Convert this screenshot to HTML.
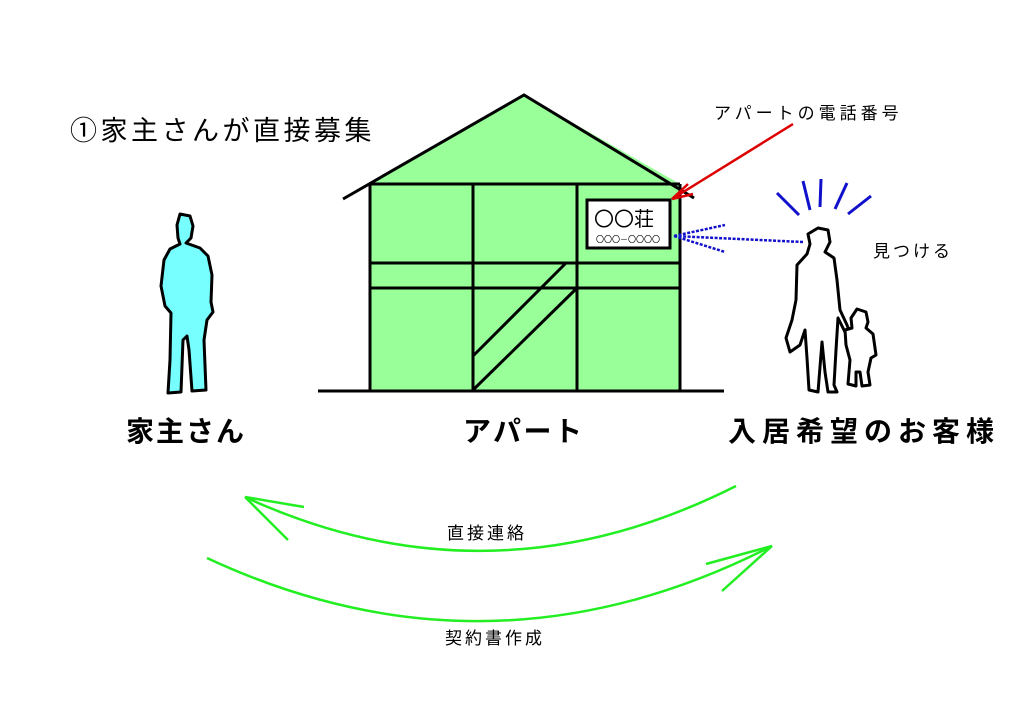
<!DOCTYPE html>
<html><head><meta charset="utf-8"><style>
html,body{margin:0;padding:0;background:#fff;}
svg{display:block;}
text{font-family:"Liberation Sans","Noto Sans CJK JP",sans-serif;}
</style></head><body>
<svg width="1024" height="724" viewBox="0 0 1024 724" xmlns="http://www.w3.org/2000/svg">
<rect width="1024" height="724" fill="#fff"/>
<text x="70" y="140" font-size="27" letter-spacing="3.5" fill="#000">①家主さんが直接募集</text>
<!-- house -->
<polygon points="370,184 524,95 680,184 680,391 370,391" fill="#99ff99"/>
<g stroke="#000" stroke-width="3" fill="none">
<polyline points="343,199 524,95 694,198"/>
<line x1="370" y1="184" x2="680" y2="184"/>
<line x1="370" y1="184" x2="370" y2="391"/>
<line x1="680" y1="184" x2="680" y2="391"/>
<line x1="473" y1="184" x2="473" y2="391"/>
<line x1="577" y1="184" x2="577" y2="391"/>
<line x1="370" y1="263" x2="680" y2="263"/>
<line x1="370" y1="288" x2="680" y2="288"/>
<line x1="473" y1="356" x2="566" y2="263"/>
<line x1="473" y1="390" x2="577" y2="288"/>
<line x1="318" y1="391" x2="724" y2="391"/>
</g>
<rect x="587" y="200" width="83" height="48" fill="#fff" stroke="#000" stroke-width="3"/>
<text x="594" y="226" font-size="20">〇〇荘</text>
<text x="596" y="242" font-size="8">〇〇〇－〇〇〇〇</text>
<!-- red arrow -->
<line x1="793" y1="124" x2="672" y2="199" stroke="#dd0000" stroke-width="2.5"/>
<line x1="672" y1="199" x2="688" y2="184" stroke="#dd0000" stroke-width="2.5"/>
<line x1="672" y1="199" x2="693" y2="194" stroke="#dd0000" stroke-width="2.5"/>
<text x="714" y="119" font-size="17" letter-spacing="4">アパートの電話番号</text>
<!-- blue dashed -->
<g stroke="#1111cc" stroke-width="2.5" stroke-dasharray="3,1.5" fill="none">
<line x1="803" y1="242" x2="674" y2="236"/>
<line x1="674" y1="236" x2="725" y2="225"/>
<line x1="674" y1="236" x2="725" y2="252"/>
</g>
<g stroke="#1111cc" stroke-width="3">
<line x1="777" y1="193" x2="799" y2="215"/>
<line x1="803" y1="181" x2="810" y2="210"/>
<line x1="821" y1="179" x2="820" y2="207"/>
<line x1="847" y1="183" x2="835" y2="209"/>
<line x1="871" y1="196" x2="848" y2="214"/>
</g>
<text x="873" y="257" font-size="17" letter-spacing="3">見つける</text>
<!-- landlord -->
<path d="M180,214 L190,216 L193,226 L191,238 L186,243 L200,248 L208,256 L212,275 L211,302 L213,312 L207,320 L204,340 L206,390 L192,391 L189,350 L187,336 L183,340 L181,392 L168,393 L170,360 L171,313 L165,306 L161,286 L164,260 L170,249 L180,244 L178,238 L177,225 Z" fill="#77ffff" stroke="#000" stroke-width="3" stroke-linejoin="round"/>
<!-- customers -->
<g fill="#fff" stroke="#000" stroke-width="3" stroke-linejoin="round">
<path d="M818,228 L828,230 L830,242 L825,252 L834,258 L837,280 L840,310 L847,325 L850,333 L845,332 L838,318 L836,350 L834,385 L837,392 L828,392 L825,372 L822,342 L818,392 L809,390 L807,358 L805,330 L800,345 L790,352 L786,338 L792,320 L796,300 L797,265 L807,254 L810,244 L808,234 Z"/>
<path d="M857,309 L866,312 L868,322 L866,328 L873,334 L876,355 L871,358 L868,372 L870,385 L862,386 L860,372 L856,372 L856,386 L848,384 L850,360 L846,345 L845,330 L852,328 L851,318 Z"/>
</g>
<text x="126" y="441" font-size="28" font-weight="bold" letter-spacing="2">家主さん</text>
<text x="463" y="441" font-size="28" font-weight="bold" letter-spacing="2.5">アパート</text>
<text x="728" y="441" font-size="28" font-weight="bold" letter-spacing="6">入居希望のお客様</text>
<!-- green arcs -->
<g stroke="#22ee22" stroke-width="2.5" fill="none">
<path d="M736,486 Q490,610 245,497"/>
<line x1="245" y1="497" x2="304" y2="507"/>
<line x1="245" y1="497" x2="288" y2="540"/>
<path d="M207,558 Q490,690 772,546"/>
<line x1="772" y1="546" x2="706" y2="564"/>
<line x1="772" y1="546" x2="722" y2="591"/>
</g>
<text x="447" y="539" font-size="17" letter-spacing="3">直接連絡</text>
<text x="445" y="644" font-size="17" letter-spacing="3">契約書作成</text>
</svg>
</body></html>
